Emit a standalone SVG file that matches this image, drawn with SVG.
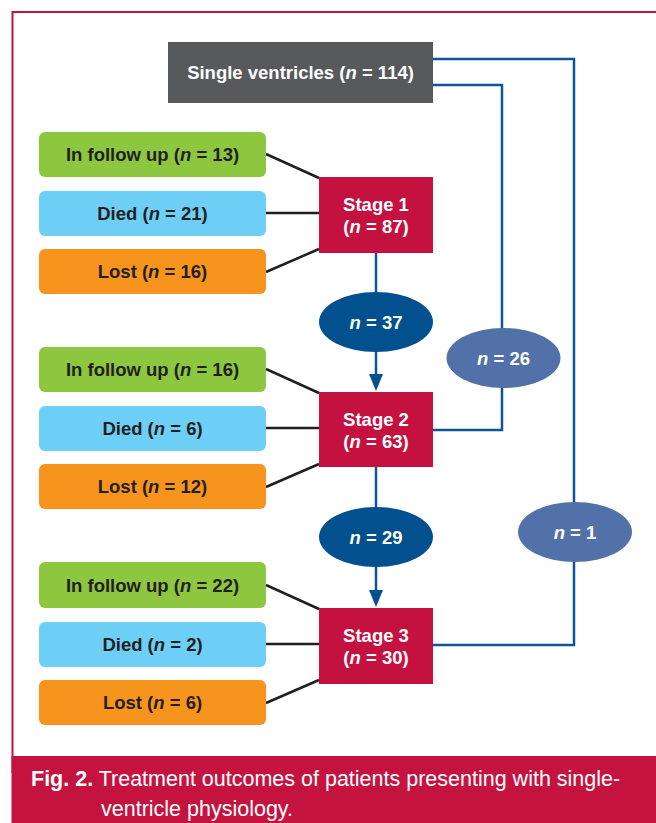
<svg xmlns="http://www.w3.org/2000/svg" width="656" height="823" viewBox="0 0 656 823">
<style>
text{font-family:"Liberation Sans",Arial,Helvetica,sans-serif;}
.lbl{font-size:18.5px;font-weight:bold;fill:#231f20;text-anchor:middle;}
.wl{font-size:18.5px;font-weight:bold;fill:#ffffff;text-anchor:middle;}
.cap{font-size:21.5px;fill:#ffffff;}
.g{fill:#8dc63f;}
.b{fill:#6dcff6;}
.o{fill:#f7941d;}
.st{fill:#c5113f;}
.ln{stroke:#231f20;stroke-width:2.5;fill:none;}
.bl{stroke:#0d5596;stroke-width:2.5;fill:none;}
.e1{fill:#02508e;}
.e2{fill:#5271a8;}
</style>
<defs>
<marker id="ah" markerWidth="14" markerHeight="17" refX="7" refY="17" orient="auto-start-reverse" markerUnits="userSpaceOnUse" viewBox="0 0 14 17">
<path d="M0,0 L14,0 L7,17 Z" fill="#02508e"/>
</marker>
</defs>
<rect x="0" y="0" width="656" height="823" fill="#ffffff"/>
<rect id="frame" x="12.5" y="12" width="660" height="760" fill="none" stroke="#c5133f" stroke-width="2"/>
<g id="connectors">
<path class="bl" d="M433,59 H574 V645 H433"/>
<path class="bl" d="M433,85 H502 V430 H433"/>
<line class="bl" x1="376" y1="253" x2="376" y2="292"/>
<line class="bl" x1="376" y1="352" x2="376" y2="374"/>
<path d="M369,374 L383,374 L376,391 Z" fill="#02508e"/>
<line class="bl" x1="376" y1="467" x2="376" y2="507"/>
<line class="bl" x1="376" y1="567" x2="376" y2="590"/>
<path d="M369,590 L383,590 L376,607 Z" fill="#02508e"/>
<line class="ln" x1="266" y1="154" x2="319" y2="178"/>
<line class="ln" x1="266" y1="213" x2="319" y2="213"/>
<line class="ln" x1="266" y1="272" x2="319" y2="249"/>
<line class="ln" x1="266" y1="369" x2="319" y2="393"/>
<line class="ln" x1="266" y1="428" x2="319" y2="428"/>
<line class="ln" x1="266" y1="487" x2="319" y2="464"/>
<line class="ln" x1="266" y1="585" x2="319" y2="609"/>
<line class="ln" x1="266" y1="644" x2="319" y2="644"/>
<line class="ln" x1="266" y1="703" x2="319" y2="680"/>
</g>
<g id="single">
<rect x="168" y="42" width="265" height="61" fill="#58595b"/>
<text class="wl" x="300.5" y="79">Single ventricles (<tspan font-style="italic">n</tspan> = 114)</text>
</g>
<g id="fu1"><rect class="g" x="39" y="132" width="227" height="45" rx="6"/><text class="lbl" x="152.5" y="161">In follow up (<tspan font-style="italic">n</tspan> = 13)</text></g>
<g id="died1"><rect class="b" x="39" y="191" width="227" height="45" rx="6"/><text class="lbl" x="152.5" y="219.5">Died (<tspan font-style="italic">n</tspan> = 21)</text></g>
<g id="lost1"><rect class="o" x="39" y="249" width="227" height="45" rx="6"/><text class="lbl" x="152.5" y="278">Lost (<tspan font-style="italic">n</tspan> = 16)</text></g>
<g id="stage1"><rect class="st" x="319" y="177" width="114" height="76"/><text class="wl" x="376" y="211">Stage 1</text><text class="wl" x="376" y="233">(<tspan font-style="italic">n</tspan> = 87)</text></g>
<g id="e37"><ellipse class="e1" cx="376" cy="322" rx="57" ry="30"/><text class="wl" x="376" y="328.5"><tspan font-style="italic">n</tspan> = 37</text></g>
<g id="e26"><ellipse class="e2" cx="503.5" cy="358" rx="57" ry="30"/><text class="wl" x="503.5" y="364.5"><tspan font-style="italic">n</tspan> = 26</text></g>
<g id="fu2"><rect class="g" x="39" y="347" width="227" height="45" rx="6"/><text class="lbl" x="152.5" y="376">In follow up (<tspan font-style="italic">n</tspan> = 16)</text></g>
<g id="died2"><rect class="b" x="39" y="406" width="227" height="45" rx="6"/><text class="lbl" x="152.5" y="434.5">Died (<tspan font-style="italic">n</tspan> = 6)</text></g>
<g id="lost2"><rect class="o" x="39" y="464" width="227" height="45" rx="6"/><text class="lbl" x="152.5" y="493">Lost (<tspan font-style="italic">n</tspan> = 12)</text></g>
<g id="stage2"><rect class="st" x="319" y="392" width="114" height="75"/><text class="wl" x="376" y="426">Stage 2</text><text class="wl" x="376" y="448">(<tspan font-style="italic">n</tspan> = 63)</text></g>
<g id="e29"><ellipse class="e1" cx="376" cy="537" rx="57" ry="30"/><text class="wl" x="376" y="543.5"><tspan font-style="italic">n</tspan> = 29</text></g>
<g id="e1n"><ellipse class="e2" cx="575" cy="532" rx="57" ry="30"/><text class="wl" x="575" y="538.5"><tspan font-style="italic">n</tspan> = 1</text></g>
<g id="fu3"><rect class="g" x="39" y="562" width="227" height="46" rx="6"/><text class="lbl" x="152.5" y="591.5">In follow up (<tspan font-style="italic">n</tspan> = 22)</text></g>
<g id="died3"><rect class="b" x="39" y="622" width="227" height="45" rx="6"/><text class="lbl" x="152.5" y="650.5">Died (<tspan font-style="italic">n</tspan> = 2)</text></g>
<g id="lost3"><rect class="o" x="39" y="680" width="227" height="45" rx="6"/><text class="lbl" x="152.5" y="709">Lost (<tspan font-style="italic">n</tspan> = 6)</text></g>
<g id="stage3"><rect class="st" x="319" y="608" width="114" height="76"/><text class="wl" x="376" y="642">Stage 3</text><text class="wl" x="376" y="664">(<tspan font-style="italic">n</tspan> = 30)</text></g>
<g id="caption">
<rect x="11.5" y="756" width="650" height="67" fill="#c5133f"/>
<text class="cap" x="31" y="786"><tspan font-weight="bold">Fig. 2.</tspan> Treatment outcomes of patients presenting with single-</text>
<text class="cap" x="101" y="816">ventricle physiology.</text>
</g>
</svg>
